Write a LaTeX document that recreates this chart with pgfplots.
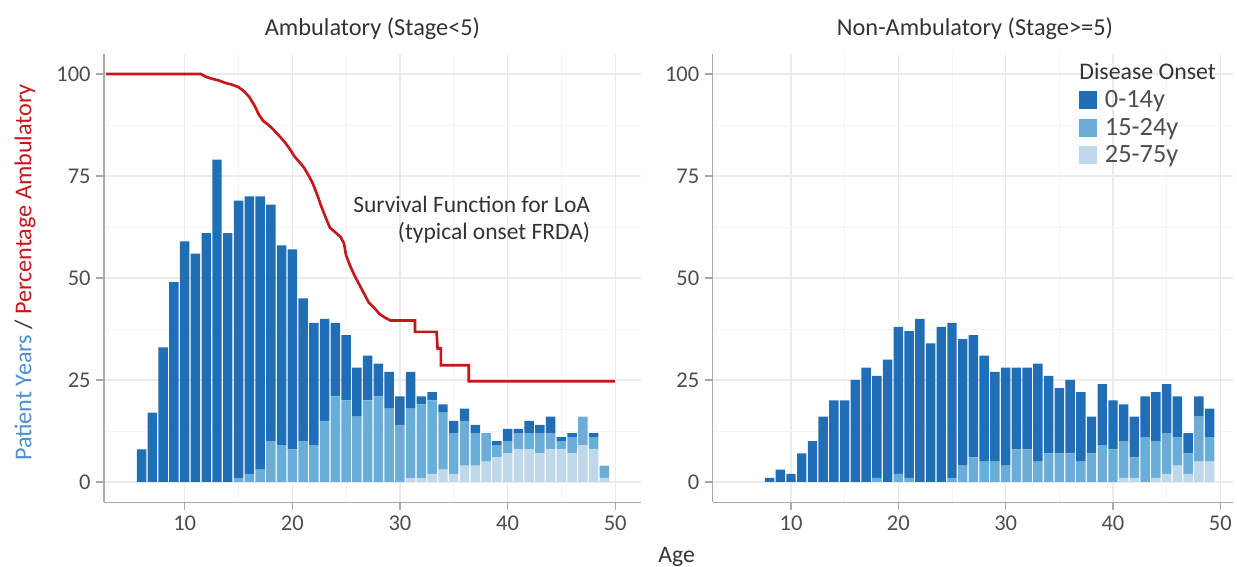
\documentclass[border=0pt]{standalone}
\usepackage{pgfplots}
\pgfplotsset{compat=1.18}
\usepackage{pgfplotstable}
\usepackage{fontspec}
\setmainfont{Carlito}

\definecolor{c1}{HTML}{1F6EB6}
\definecolor{c2}{HTML}{6AADD8}
\definecolor{c3}{HTML}{BFD8EA}
\definecolor{redl}{HTML}{C8161D}
\definecolor{gridc}{HTML}{EBEBEB}
\definecolor{minorc}{HTML}{F4F4F4}
\definecolor{axc}{HTML}{A8A8A8}
\definecolor{txt}{HTML}{4D4D4D}
\definecolor{ttl}{HTML}{333333}
\definecolor{ylblue}{HTML}{4F8FD0}

\pgfplotstableread{
age d m l
6 8 0 0
7 17 0 0
8 33 0 0
9 49 0 0
10 59 0 0
11 56 0 0
12 61 0 0
13 79 0 0
14 61 0 0
15 68 1 0
16 68 2 0
17 67 3 0
18 58 10 0
19 49 9 0
20 49 8 0
21 35 10 0
22 30 9 0
23 25 15 0
24 18 21 0
25 16 20 0
26 12 16 0
27 11 20 0
28 8 21 0
29 9 18 0
30 7 14 0
31 9 17 1
32 2 18 1
33 2 18 2
34 2 14 3
35 3 10 2
36 3 11 4
37 2 8 4
38 0 7 5
39 1 3 6
40 3 3 7
41 1 4 8
42 3 4 8
43 2 5 7
44 4 4 8
45 1 2 8
46 1 4 7
47 0 7 9
48 1 3 8
49 0 3 1
}\leftdata

\pgfplotstableread{
age d m l
8 1 0 0
9 3 0 0
10 2 0 0
11 7 0 0
12 10 0 0
13 16 0 0
14 20 0 0
15 20 0 0
16 25 0 0
17 28 0 0
18 25 1 0
19 30 0 0
20 36 2 0
21 36 1 0
22 40 0 0
23 34 0 0
24 38 0 0
25 38 1 0
26 31 4 0
27 30 6 0
28 26 5 0
29 22 5 0
30 24 4 0
31 20 8 0
32 20 8 0
33 24 5 0
34 19 7 0
35 16 7 0
36 18 7 0
37 17 5 0
38 9 7 0
39 15 9 0
40 12 8 0
41 9 9 1
42 10 5 1
43 10 11 0
44 12 9 1
45 12 10 2
46 10 7 4
47 5 5 2
48 5 11 5
49 7 6 5
}\rightdata

\pgfplotsset{
  base/.style={
    scale only axis,
    anchor=south west,
    height=269.2pt,
    ymin=-5, ymax=105,
    axis x line=bottom, axis y line=left,
    axis line style={draw=axc, line width=0.8pt, -},
    xtick={10,20,30,40,50},
    ytick={0,25,50,75,100},
    minor x tick num=1, minor y tick num=1,
    grid=both,
    major grid style={draw=gridc, line width=0.7pt},
    minor grid style={draw=minorc, line width=0.5pt},
    tick align=outside,
    major tick length=4.5pt, minor tick length=0pt,
    tick style={draw=axc, line width=0.8pt},
    /pgf/number format/assume math mode=true,
    tick label style={font=\fontsize{13.5}{15}\selectfont, text=txt},
    enlargelimits=false,
  }
}

\begin{document}
\begin{tikzpicture}
\useasboundingbox (0,0) rectangle (742.2pt,-340.2pt);

% Left panel
\begin{axis}[base, at={(62.4pt,-301.4pt)}, width=322.2pt,
  xmin=2.5, xmax=52.4, ybar stacked, bar width=0.88]
\addplot[fill=c3, draw=none] table[x=age,y=l]{\leftdata};
\addplot[fill=c2, draw=none] table[x=age,y=m]{\leftdata};
\addplot[fill=c1, draw=none] table[x=age,y=d]{\leftdata};
\end{axis}

\begin{axis}[scale only axis, anchor=south west, at={(62.4pt,-301.4pt)},
  width=322.2pt, height=269.2pt, xmin=2.5, xmax=52.4, ymin=-5, ymax=105, hide axis]
\addplot[draw=redl, line width=1.6pt, sharp plot, mark=none] coordinates {
(2.7,100) (11.5,100) (12.0,99.3) (12.6,98.8) (13.2,98.4) (13.8,97.8) (14.4,97.4)
(15.0,96.8) (15.5,95.8) (16.0,94.4) (16.5,92.2) (16.9,90) (17.3,88.5) (17.8,87.5)
(18.3,86.2) (18.8,84.8) (19.3,83.3) (19.8,81.5) (20.2,79.8) (20.7,78.3) (21.1,77)
(21.5,75.2) (21.9,73.2) (22.3,70.5) (22.7,67.5) (23.1,64.8) (23.5,62.3) (24.0,61.2)
(24.5,60) (24.8,58.5) (25.0,55.5) (25.4,52.8) (25.8,50.5) (26.3,48) (26.7,46)
(27.1,44) (27.6,42.7) (28.1,41.2) (28.6,40.3) (29.1,39.6) (31.4,39.6) (31.4,36.8)
(33.4,36.8) (33.5,32.7) (33.8,32.7) (33.8,28.6) (36.4,28.6) (36.4,24.7) (50,24.7)
};
\node[anchor=east, inner sep=0pt, font=\fontsize{14.1}{16}\selectfont, text=ttl] at (axis cs:47.7,68) {Survival Function for LoA};
\node[anchor=east, inner sep=0pt, font=\fontsize{14.1}{16}\selectfont, text=ttl] at (axis cs:47.7,61.2) {(typical onset FRDA)};
\end{axis}

% Right panel
\begin{axis}[base, at={(427.6pt,-301.4pt)}, width=312.3pt,
  xmin=2.7, xmax=51.2, ybar stacked, bar width=0.88,
  reverse legend,
  legend style={draw=none, fill=none, at={(rel axis cs:0.704,0.919)}, anchor=north west,
    font=\fontsize{15.8}{17}\selectfont, text=txt, row sep=4.8pt, column sep=0pt,
    inner sep=0pt, nodes={inner sep=0pt}},
  legend cell align=left]
\addplot[fill=c3, draw=none, legend image code/.code={\fill[c3] (0pt,-5.4pt) rectangle (10.8pt,5.4pt); \path (15.3pt,0pt);}] table[x=age,y=l]{\rightdata};
\addlegendentry{25-75y}
\addplot[fill=c2, draw=none, legend image code/.code={\fill[c2] (0pt,-5.4pt) rectangle (10.8pt,5.4pt); \path (15.3pt,0pt);}] table[x=age,y=m]{\rightdata};
\addlegendentry{15-24y}
\addplot[fill=c1, draw=none, legend image code/.code={\fill[c1] (0pt,-5.4pt) rectangle (10.8pt,5.4pt); \path (15.3pt,0pt);}] table[x=age,y=d]{\rightdata};
\addlegendentry{0-14y}
\end{axis}

% Titles and labels
\node[font=\fontsize{14.6}{16}\selectfont, text=ttl] at (223.5pt,-17.4pt) {Ambulatory (Stage<5)};
\node[font=\fontsize{14.6}{16}\selectfont, text=ttl] at (585pt,-17.4pt) {Non-Ambulatory (Stage>=5)};
\node[font=\fontsize{14.3}{16}\selectfont, text=ttl, anchor=west, inner sep=0pt] at (647.4pt,-43pt) {Disease Onset};
\node[font=\fontsize{14.2}{16}\selectfont, text=ttl, anchor=base, inner sep=0pt] at (406pt,-337.6pt) {Age};
\node[font=\fontsize{14.5}{16}\selectfont, rotate=90] at (15pt,-163.5pt)
  {\textcolor{ylblue}{Patient Years} \textcolor{ttl}{/} \textcolor{redl}{Percentage Ambulatory}};
\end{tikzpicture}
\end{document}
